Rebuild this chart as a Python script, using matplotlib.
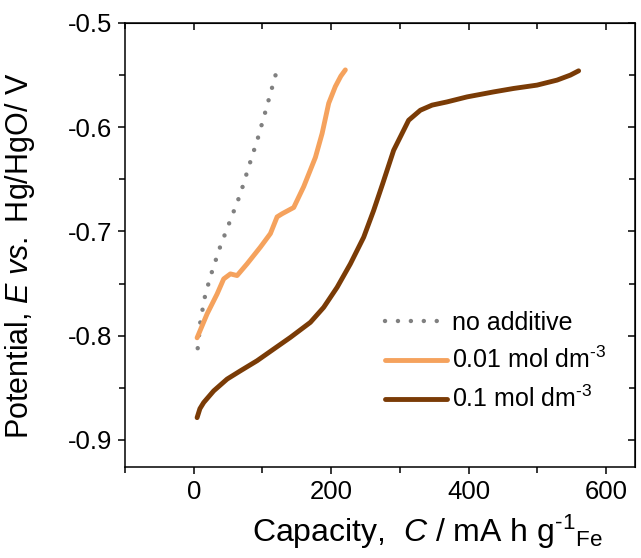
import matplotlib
matplotlib.use("Agg")
import matplotlib.pyplot as plt
from matplotlib.ticker import MultipleLocator

plt.rcParams['font.family'] = ['Liberation Sans', 'DejaVu Sans']
plt.rcParams['mathtext.fontset'] = 'custom'
plt.rcParams['mathtext.rm'] = 'Liberation Sans'
plt.rcParams['mathtext.it'] = 'Liberation Sans:italic'

# no additive
cap_none = [5.8, 7.3, 9.7, 17.0, 26.8, 38.8, 53.4, 67.9, 80.0, 93.1, 104.3, 119.9]
pot_none = [-0.812, -0.803, -0.786, -0.760, -0.738, -0.714, -0.689, -0.664,
            -0.638, -0.611, -0.585, -0.548]

# 0.01 mol dm-3
cap_001 = [4.9, 19.5, 34.0, 43.6, 53.4, 63.1, 77.7, 97.0, 111.6, 121.3, 128.6,
           145.5, 160.0, 177.0, 186.8, 196.4, 206.0, 214.0, 220.6]
pot_001 = [-0.802, -0.779, -0.760, -0.7455, -0.7407, -0.7423, -0.731, -0.715,
           -0.702, -0.686, -0.683, -0.677, -0.657, -0.629, -0.606, -0.577,
           -0.561, -0.551, -0.545]

# 0.1 mol dm-3
cap_01 = [4.9, 9.0, 14.5, 29.1, 48.6, 67.9, 92.2, 116.4, 140.7, 169.7, 189.1, 208.6,
          227.9, 247.3, 261.8, 275.0, 290.9, 312.7, 329.7, 346.8, 368.6, 397.7,
          436.4, 465.5, 499.5, 528.6, 548.0, 560.0]
pot_01 = [-0.8786, -0.8700, -0.8641, -0.8529, -0.8416, -0.8337, -0.824, -0.8128,
          -0.8016, -0.7872, -0.7728, -0.7536, -0.7311, -0.7055, -0.6798, -0.654,
          -0.6221, -0.5933, -0.5837, -0.5788, -0.5757, -0.5709, -0.5661, -0.5628,
          -0.5596, -0.5548, -0.550, -0.5459]

fig = plt.figure(figsize=(6.41, 5.58), dpi=100)
ax = fig.add_axes([0.195, 0.163, 0.7956, 0.7958])

ax.plot(cap_none, pot_none, color='#808080', lw=3.2, linestyle=(0, (0.01, 2.9)),
        dash_capstyle='round', label='no additive')
ax.plot(cap_001, pot_001, color='#F5A25D', lw=3.5, solid_capstyle='round',
        label=r'0.01 mol dm$^{\text{-3}}$')
ax.plot(cap_01, pot_01, color='#7A3B06', lw=3.5, solid_capstyle='round',
        label=r'0.1 mol dm$^{\text{-3}}$')

ax.set_xlim(-100, 642)
ax.set_ylim(-0.926, -0.5)
ax.xaxis.set_major_locator(MultipleLocator(200))
ax.xaxis.set_minor_locator(MultipleLocator(100))
ax.yaxis.set_minor_locator(MultipleLocator(0.05))
ax.set_yticks([-0.5, -0.6, -0.7, -0.8, -0.9])
ax.set_yticklabels(['-0.5', '-0.6', '-0.7', '-0.8', '-0.9'])

for s in ax.spines.values():
    s.set_linewidth(1.1)
ax.tick_params(which='both', labelsize=18.5, width=1.1, direction='out', pad=4)
ax.tick_params(which='major', length=5)
ax.tick_params(which='minor', length=4)
sec_x = ax.secondary_xaxis('top')
sec_x.xaxis.set_major_locator(MultipleLocator(200))
sec_x.xaxis.set_minor_locator(MultipleLocator(100))
sec_x.tick_params(which='both', direction='in', labeltop=False, width=1.1)
sec_x.tick_params(which='major', length=5)
sec_x.tick_params(which='minor', length=4)
sec_y = ax.secondary_yaxis('right')
sec_y.yaxis.set_major_locator(MultipleLocator(0.1))
sec_y.yaxis.set_minor_locator(MultipleLocator(0.05))
sec_y.tick_params(which='both', direction='in', labelright=False, width=1.1)
sec_y.tick_params(which='major', length=5)
sec_y.tick_params(which='minor', length=4)

ax.set_xlabel(r'Capacity,  $\mathit{C}$ / mA h g$^{\text{-1}}$$_{\mathrm{Fe}}$', fontsize=23)
ax.xaxis.set_label_coords(0.594, -0.103)
ax.set_ylabel(r'Potential, $\mathit{E}$ $\mathit{vs.}$ Hg/HgO/ V', fontsize=22)
ax.yaxis.set_label_coords(-0.172, 0.475)

ax.legend(loc='upper left', bbox_to_anchor=(0.49, 0.375), frameon=False,
          fontsize=18, handlelength=2.5, handletextpad=0.2, labelspacing=0.5,
          borderaxespad=0)

fig.savefig('out.png', dpi=100)
